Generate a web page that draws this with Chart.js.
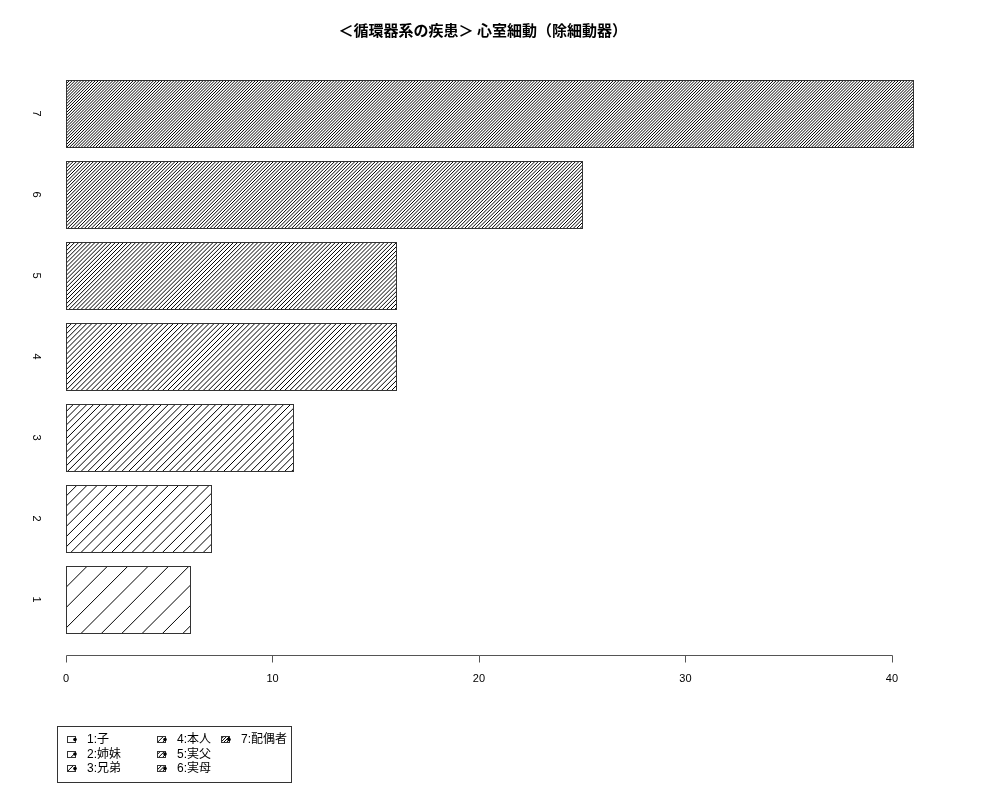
<!DOCTYPE html>
<html>
<head>
<meta charset="utf-8">
<script src="https://cdn.jsdelivr.net/npm/chart.js@4.4.1/dist/chart.umd.min.js"></script>
<style>
  html, body { margin: 0; background: #fff; }
  #wrap { width: 1000px; height: 800px; }
</style>
</head>
<body>
<div id="wrap"><canvas id="chart"></canvas></div>
<script>
// ============================================================
// Data
// ============================================================
const TITLE = '＜循環器系の疾患＞ 心室細動（除細動器）';
const categories = ['1', '2', '3', '4', '5', '6', '7'];
const counts = [6, 7, 11, 16, 16, 25, 41];
const legendLabels = ['1:子', '2:姉妹', '3:兄弟', '4:本人', '5:実父', '6:実母', '7:配偶者'];
const xTicks = [0, 10, 20, 30, 40];

// hatch density per bar, lines per inch (R barplot style)
const hatchDensity = [5, 10, 15, 20, 25, 30, 35];
const DPI = 72;

Chart.defaults.font.family = '"Liberation Sans", "Noto Sans CJK JP", sans-serif';
Chart.defaults.color = '#000';

// 45 degree hatch lines clipped to a rectangle
function hatchRect(ctx, x0, y0, w, h, density) {
  const gap = DPI / density * Math.SQRT2;
  ctx.save();
  ctx.beginPath();
  ctx.rect(x0, y0, w, h);
  ctx.clip();
  ctx.strokeStyle = '#000';
  ctx.lineWidth = 1;
  ctx.beginPath();
  const start = Math.floor((x0 - h) / gap) * gap;
  for (let x = start; x <= x0 + w; x += gap) {
    ctx.moveTo(x, y0 + h);
    ctx.lineTo(x + h, y0);
  }
  ctx.stroke();
  ctx.restore();
}

// Hatching on each bar, then its outline
const hatchPlugin = {
  id: 'hatch',
  afterDatasetsDraw(chart) {
    const ctx = chart.ctx;
    const meta = chart.getDatasetMeta(0);
    meta.data.forEach((bar, i) => {
      const { x, y, base, height } = bar.getProps(['x', 'y', 'base', 'height'], true);
      const left = Math.round(Math.min(x, base));
      const w = Math.round(Math.abs(x - base));
      const top = Math.round(y - height / 2);
      const h = Math.round(height);
      hatchRect(ctx, left, top, w, h, hatchDensity[i]);
      ctx.save();
      ctx.strokeStyle = '#333';
      ctx.lineWidth = 1;
      ctx.strokeRect(left + 0.5, top + 0.5, w, h);
      ctx.restore();
    });
  }
};

// R style x axis: line only from first to last tick, a bit below the bars
const axisPlugin = {
  id: 'rAxis',
  afterDraw(chart) {
    const ctx = chart.ctx;
    const xs = chart.scales.x;
    const yLine = Math.round(chart.chartArea.bottom + 15) + 0.5;
    ctx.save();
    ctx.strokeStyle = '#555';
    ctx.lineWidth = 1;
    ctx.beginPath();
    ctx.moveTo(Math.round(xs.getPixelForValue(xTicks[0])) + 0.5, yLine);
    ctx.lineTo(Math.round(xs.getPixelForValue(xTicks[xTicks.length - 1])) + 0.5, yLine);
    xTicks.forEach(v => {
      const px = Math.round(xs.getPixelForValue(v)) + 0.5;
      ctx.moveTo(px, yLine);
      ctx.lineTo(px, yLine + 7);
    });
    ctx.stroke();
    ctx.restore();
  }
};

// Boxed legend, filled column by column (3 rows)
const legendPlugin = {
  id: 'rLegend',
  afterDraw(chart) {
    const ctx = chart.ctx;
    const box = { x: 57, y: 726, w: 234, h: 56 };
    const rows = 3;
    const colX = [10, 100, 164];
    ctx.save();
    ctx.strokeStyle = '#333';
    ctx.lineWidth = 1;
    ctx.strokeRect(box.x + 0.5, box.y + 0.5, box.w, box.h);
    ctx.font = '12px "Liberation Sans", "Noto Sans CJK JP", sans-serif';
    ctx.textBaseline = 'middle';
    ctx.fillStyle = '#000';
    legendLabels.forEach((lab, i) => {
      const col = Math.floor(i / rows);
      const row = i % rows;
      const sx = box.x + colX[col];
      const cy = box.y + 13 + row * 14.5;
      const sw = 8, sh = 6;
      const sy = Math.round(cy - sh / 2);
      hatchRect(ctx, sx, sy, sw, sh, hatchDensity[i]);
      ctx.strokeStyle = '#333';
      ctx.strokeRect(sx + 0.5, sy + 0.5, sw, sh);
      ctx.beginPath();
      ctx.arc(sx + sw, cy + 0.5, 1.8, 0, Math.PI * 2);
      ctx.fill();
      ctx.fillText(lab, sx + 20, cy + 1);
    });
    ctx.restore();
  }
};

const xMax = Math.max(...counts) * 1.04;

new Chart(document.getElementById('chart'), {
  type: 'bar',
  data: {
    labels: categories,
    datasets: [{
      data: counts,
      backgroundColor: 'rgba(255,255,255,0)',
      borderWidth: 0,
      categoryPercentage: 1,
      barPercentage: 1 / 1.2,
    }]
  },
  options: {
    indexAxis: 'y',
    responsive: true,
    maintainAspectRatio: false,
    animation: false,
    layout: { padding: { left: 19, right: 53.5, top: 0, bottom: 82.8 } },
    plugins: {
      legend: { display: false },
      tooltip: { enabled: false },
      title: {
        display: true,
        text: TITLE,
        color: '#000',
        font: { size: 15, weight: 'bold', family: '"Noto Sans CJK JP", sans-serif' },
        padding: { top: 21, bottom: 34 },
      },
    },
    scales: {
      x: {
        type: 'linear',
        min: 0,
        max: xMax,
        grid: { display: false, drawTicks: false },
        border: { display: false },
        afterBuildTicks: s => { s.ticks = xTicks.map(v => ({ value: v })); },
        ticks: { padding: 32, font: { size: 11 }, color: '#000', maxRotation: 0, autoSkip: false },
      },
      y: {
        type: 'category',
        reverse: true,
        offset: true,
        grid: { display: false, drawTicks: false },
        border: { display: false },
        afterFit: s => { s.width = 47; },
        ticks: { minRotation: -90, maxRotation: -90, crossAlign: 'center', padding: 27, font: { size: 11 }, color: '#000' },
      },
    },
  },
  plugins: [hatchPlugin, axisPlugin, legendPlugin],
});
</script>
</body>
</html>
